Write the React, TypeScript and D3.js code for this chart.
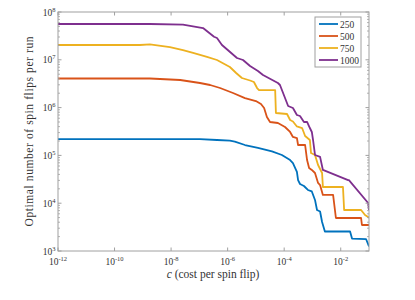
import React from "react";
import * as d3 from "d3";

// cost per spin flip (x) values for each series
const c250 = [1e-12, 1.05e-7, 4.2e-7, 1.2e-6, 1.8e-6, 4.1e-6, 1.18e-5, 3.7e-5, 8.3e-5, 1.62e-4, 2.04e-4, 2.82e-4, 3.1e-4, 3.63e-4, 5.0e-4, 6.9e-4, 9.5e-4, 1.23e-3, 1.45e-3, 1.86e-3, 2.19e-3, 2.75e-3, 0.0214, 0.0251, 0.0785, 0.1];
const y250 = [2.2e5, 2.2e5, 2.1e5, 2.03e5, 1.95e5, 1.65e5, 1.43e5, 1.21e5, 1.02e5, 8.0e4, 6.93e4, 4.5e4, 3.05e4, 2.52e4, 2.29e4, 1.89e4, 1.76e4, 1.17e4, 7.2e3, 6.7e3, 4.05e3, 2.56e3, 2.56e3, 1.82e3, 1.78e3, 1.24e3];

const c500 = [1e-12, 1.78e-9, 2.1e-8, 1.05e-7, 2.4e-7, 5.4e-7, 1.55e-6, 4.1e-6, 1.0e-5, 1.51e-5, 1.95e-5, 2.45e-5, 3.16e-5, 6.0e-5, 1.07e-4, 1.62e-4, 2.04e-4, 2.82e-4, 3.1e-4, 5.5e-4, 6.45e-4, 7.6e-4, 9.5e-4, 1.23e-3, 1.58e-3, 1.86e-3, 2.34e-3, 5.37e-3, 6.76e-3, 0.0525, 0.0562, 0.1];
const y500 = [4.06e6, 4.06e6, 3.78e6, 3.27e6, 2.97e6, 2.57e6, 2.02e6, 1.58e6, 1.37e6, 1.19e6, 9.8e5, 6.36e5, 5.0e5, 4.76e5, 3.93e5, 3.09e5, 2.43e5, 2.31e5, 1.65e5, 1.65e5, 8.0e4, 5.45e4, 4.96e4, 4.28e4, 2.65e4, 2.40e4, 1.49e4, 1.49e4, 4.9e3, 4.9e3, 3.5e3, 3.5e3];

const c750 = [1e-12, 7.9e-10, 1.78e-9, 9.1e-9, 2.63e-8, 6.0e-8, 1.86e-7, 4.2e-7, 1.2e-6, 2.0e-6, 3.2e-6, 6.2e-6, 8.5e-6, 1.1e-5, 1.29e-5, 4.8e-5, 5.1e-5, 1.26e-4, 1.62e-4, 2.04e-4, 2.82e-4, 4.3e-4, 5.5e-4, 8.1e-4, 8.9e-4, 1.23e-3, 1.58e-3, 2.19e-3, 2.34e-3, 0.012, 0.0132, 0.0525, 0.0724, 0.0933, 0.1];
const y750 = [2.04e7, 2.04e7, 2.1e7, 1.85e7, 1.60e7, 1.39e7, 1.15e7, 9.9e6, 7.07e6, 5.3e6, 4.16e6, 3.69e6, 3.43e6, 2.57e6, 2.33e6, 2.33e6, 7.71e5, 7.35e5, 5.5e5, 5.13e5, 4.03e5, 3.74e5, 2.55e5, 2.10e5, 1.12e5, 1.02e5, 6.3e4, 4.28e4, 2.18e4, 2.18e4, 7.2e3, 7.2e3, 5.66e3, 5.14e3, 4.9e3];

const c1000 = [1e-12, 3.1e-11, 1.78e-9, 2.63e-8, 1.35e-7, 3.3e-7, 4.2e-7, 6.3e-7, 2.14e-6, 3.5e-6, 6.2e-6, 1.18e-5, 1.78e-5, 6.0e-5, 7.1e-5, 1.38e-4, 2.04e-4, 2.82e-4, 3.63e-4, 5.0e-4, 6.45e-4, 8.1e-4, 9.5e-4, 1.05e-3, 1.23e-3, 1.86e-3, 2.34e-3, 0.0182, 0.0195, 0.0933, 0.1];
const y1000 = [5.61e7, 5.61e7, 5.61e7, 5.42e7, 4.62e7, 3.04e7, 2.86e7, 2.04e7, 1.09e7, 9.9e6, 7.4e6, 5.83e6, 4.81e6, 3.27e6, 2.97e6, 1.08e6, 9.8e5, 7.0e5, 6.67e5, 5.0e5, 5.0e5, 3.74e5, 3.09e5, 2.10e5, 1.02e5, 9.3e4, 4.96e4, 3.05e4, 3.05e4, 1.01e4, 7.2e3];

const seriesNames = ["250", "500", "750", "1000"];
const seriesColors = ["#0072BD", "#D95319", "#EDB120", "#7E2F8E"];
const seriesX = [c250, c500, c750, c1000];
const seriesY = [y250, y500, y750, y1000];

const xTickExps = [-12, -10, -8, -6, -4, -2];
const yTickExps = [3, 4, 5, 6, 7, 8];

const W = 415, H = 300;
const M = { left: 58, right: 369, top: 12, bottom: 251 };
const FONT = "'Liberation Serif', 'DejaVu Serif', serif";
const AXIS = "#a0a0a0";
const TEXT = "#333";

export default function App() {
  const x = d3.scaleLog().domain([1e-12, 1e-1]).range([M.left, M.right]);
  const y = d3.scaleLog().domain([1e3, 1e8]).range([M.bottom, M.top]);
  const line = d3.line<[number, number]>().x(d => x(d[0])).y(d => y(d[1]));

  const minorY: number[] = [];
  for (let e = 3; e < 8; e++) for (let k = 2; k <= 9; k++) minorY.push(k * Math.pow(10, e));

  const majorLen = 3.5, minorLen = 2;

  return (
    <svg width={W} height={H} style={{ position: "absolute", left: 0, top: 0, background: "#fff" }}>
      <rect x={0} y={0} width={W} height={H} fill="#fff" />
      <defs>
        <clipPath id="plotclip">
          <rect x={M.left} y={M.top} width={M.right - M.left} height={M.bottom - M.top} />
        </clipPath>
      </defs>
      <g clipPath="url(#plotclip)">
        {seriesNames.map((n, i) => {
          const pts: [number, number][] = seriesX[i].map((cv, j) => [cv, seriesY[i][j]]);
          return <path key={n} d={line(pts) || ""} fill="none" stroke={seriesColors[i]} strokeWidth={1.8} strokeLinejoin="round" />;
        })}
      </g>
      <rect x={M.left} y={M.top} width={M.right - M.left} height={M.bottom - M.top} fill="none" stroke={AXIS} strokeWidth={1} />
      {xTickExps.map(e => {
        const px = x(Math.pow(10, e));
        return (
          <g key={"xt" + e}>
            <line x1={px} x2={px} y1={M.bottom} y2={M.bottom - majorLen} stroke={AXIS} />
            <line x1={px} x2={px} y1={M.top} y2={M.top + majorLen} stroke={AXIS} />
            <text x={px} y={264.5} textAnchor="middle" fontFamily={FONT} fontSize={9.5} fill={TEXT}>
              <tspan>10</tspan>
              <tspan dy={-4} fontSize={6.5}>{"-" + Math.abs(e)}</tspan>
            </text>
          </g>
        );
      })}
      {yTickExps.map(e => {
        const py = y(Math.pow(10, e));
        return (
          <g key={"yt" + e}>
            <line x1={M.left} x2={M.left + majorLen} y1={py} y2={py} stroke={AXIS} />
            <line x1={M.right} x2={M.right - majorLen} y1={py} y2={py} stroke={AXIS} />
            <text x={55.5} y={py + 3.5} textAnchor="end" fontFamily={FONT} fontSize={9.5} fill={TEXT}>
              <tspan>10</tspan>
              <tspan dy={-4} fontSize={6.5}>{String(e)}</tspan>
            </text>
          </g>
        );
      })}
      {minorY.map((v, i) => {
        const py = y(v);
        return (
          <g key={"ym" + i}>
            <line x1={M.left} x2={M.left + minorLen} y1={py} y2={py} stroke={AXIS} strokeWidth={0.8} />
            <line x1={M.right} x2={M.right - minorLen} y1={py} y2={py} stroke={AXIS} strokeWidth={0.8} />
          </g>
        );
      })}
      <text x={213} y={278} textAnchor="middle" fontFamily={FONT} fontSize={11.5} fill={TEXT}>
        <tspan fontStyle="italic">c</tspan> (cost per spin flip)
      </text>
      <text transform={`translate(33,${(M.top + M.bottom) / 2}) rotate(-90)`} textAnchor="middle" fontFamily={FONT} fontSize={11.5} fill={TEXT} textLength={190} lengthAdjust="spacing">
        Optimal number of spin flips per run
      </text>
      <rect x={315} y={17} width={46} height={50} fill="#fff" stroke={AXIS} strokeWidth={1} />
      {seriesNames.map((n, i) => {
        const ry = 24 + i * 12;
        return (
          <g key={"lg" + n}>
            <line x1={319} x2={338} y1={ry} y2={ry} stroke={seriesColors[i]} strokeWidth={1.8} />
            <text x={340} y={ry + 3.5} fontFamily={FONT} fontSize={9.5} fill={TEXT}>{n}</text>
          </g>
        );
      })}
    </svg>
  );
}
